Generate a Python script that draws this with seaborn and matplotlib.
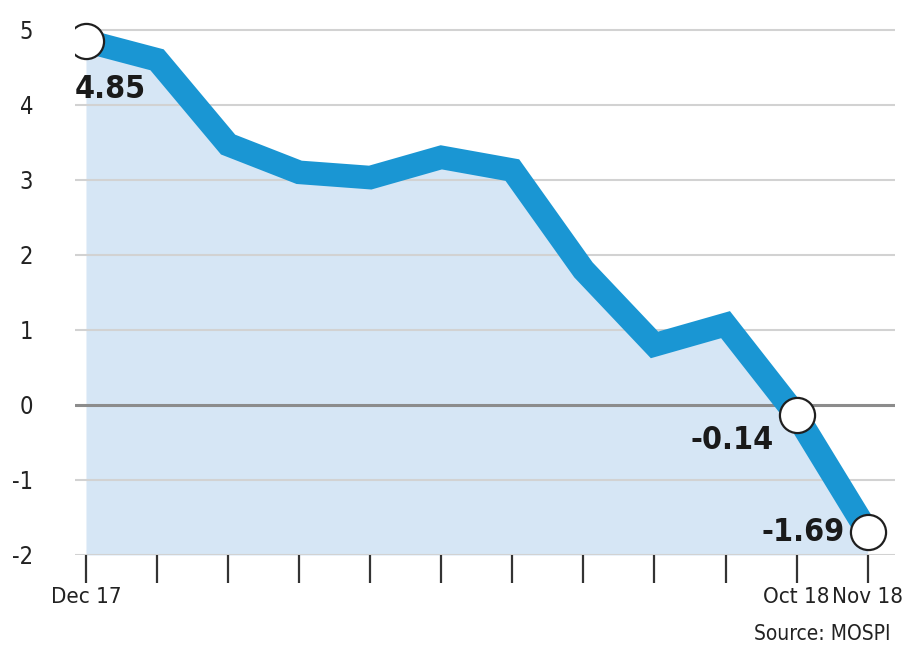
import matplotlib
matplotlib.use("Agg")
import matplotlib.pyplot as plt
import seaborn as sns
import pandas as pd

months = ["Dec 17", "Jan 18", "Feb 18", "Mar 18", "Apr 18", "May 18", "Jun 18",
          "Jul 18", "Aug 18", "Sep 18", "Oct 18", "Nov 18"]
inflation = [4.85, 4.6, 3.47, 3.1, 3.03, 3.3, 3.13, 1.8, 0.8, 1.07, -0.14, -1.69]
tick_labels = ["Dec 17", "", "", "", "", "", "", "", "", "", "Oct 18", "Nov 18"]
yticks = [-2, -1, 0, 1, 2, 3, 4, 5]
highlight = {0: "4.85", 10: "-0.14", 11: "-1.69"}

sns.set_style("white")
plt.rcParams['font.family'] = ['DejaVu Sans']
plt.rcParams['font.stretch'] = 'condensed'

df = pd.DataFrame({"idx": range(len(months)), "val": inflation})

fig = plt.figure(figsize=(9.12, 6.47), dpi=100)
ax = fig.add_axes([0.0822, 0.1422, 0.8988, 0.8454])

ax.set_ylim(-2, 5.29)
ax.set_xlim(-0.155, 11.38)

for y in yticks:
    if y == 0:
        ax.axhline(y, color="#8c8c8c", lw=2.2, zorder=1)
    else:
        ax.axhline(y, color="#d2d2d2", lw=1.5, zorder=1)

ax.fill_between(df["idx"], df["val"], -2, color="#d6e6f5", zorder=0.5, lw=0)

sns.lineplot(data=df, x="idx", y="val", ax=ax, color="#1a96d3", lw=17,
             solid_joinstyle="miter", solid_capstyle="butt", zorder=3)

hx = list(highlight.keys())
ax.scatter([df["idx"][i] for i in hx], [df["val"][i] for i in hx], s=640,
           facecolor="white", edgecolor="#1f1f1f", linewidth=1.6, zorder=5)

bold_kw = dict(fontsize=23, fontweight="bold", color="#1a1a1a", va="center",
               family=['DejaVu Sans'], fontstretch="condensed", zorder=6)
ax.text(-0.16, 4.2, highlight[0], ha="left", **bold_kw)
ax.text(9.68, -0.47, highlight[10], ha="right", **bold_kw)
ax.text(10.68, -1.7, highlight[11], ha="right", **bold_kw)

ax.set_xticks(range(len(months)))
ax.set_xticklabels(tick_labels, fontsize=16, color="#222222")
ax.tick_params(axis="x", length=20, width=1.6, color="#333333", direction="out", pad=3, bottom=True)
ax.set_yticks(yticks)
ax.set_yticklabels([str(y) for y in yticks], fontsize=17, color="#222222")
ax.tick_params(axis="y", length=0, pad=30)

for s in ax.spines.values():
    s.set_visible(False)
ax.set_xlabel("")
ax.set_ylabel("")

fig.text(0.976, 0.004, "Source: MOSPI", fontsize=15, color="#222222", ha="right", va="bottom")

fig.savefig("out.png", dpi=100)
